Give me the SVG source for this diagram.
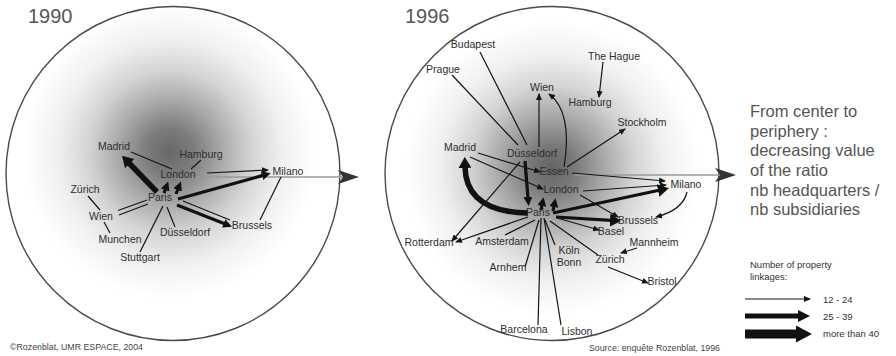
<svg xmlns="http://www.w3.org/2000/svg" width="896" height="356" viewBox="0 0 896 356">
  <style>
    .bg { fill: #ffffff; }
    .disc { stroke: #4a4a4a; stroke-width: 1.4; }
    .lbl { font-family: "Liberation Sans", Arial, sans-serif; font-size: 10.5px; fill: #2e2e2e; text-anchor: middle; }
    .year { font-family: "Liberation Sans", Arial, sans-serif; font-size: 20px; fill: #555555; }
    .note { font-family: "Liberation Sans", Arial, sans-serif; font-size: 16.5px; fill: #555555; }
    .small { font-family: "Liberation Sans", Arial, sans-serif; font-size: 9.5px; fill: #333333; }
    .foot { font-family: "Liberation Sans", Arial, sans-serif; font-size: 8.8px; fill: #444444; }
    .thin { fill: none; stroke: #151515; stroke-width: 1.2; }
    .mid { fill: none; stroke: #111111; stroke-width: 3.2; }
    .thick { fill: none; stroke: #111111; stroke-width: 5.5; }
    .axis { fill: none; stroke: #9a9a9a; stroke-width: 1.4; }
  </style>
  <defs>
    <radialGradient id="g90" gradientUnits="userSpaceOnUse" cx="170" cy="152" r="170">
      <stop offset="0" stop-color="#686868"/>
      <stop offset="0.14" stop-color="#7c7c7c"/>
      <stop offset="0.3" stop-color="#a8a8a8"/>
      <stop offset="0.48" stop-color="#d4d4d4"/>
      <stop offset="0.66" stop-color="#f0f0f0"/>
      <stop offset="0.86" stop-color="#ffffff"/>
    </radialGradient>
    <radialGradient id="g96" gradientUnits="userSpaceOnUse" cx="552" cy="168" r="170">
      <stop offset="0" stop-color="#646464"/>
      <stop offset="0.14" stop-color="#7a7a7a"/>
      <stop offset="0.3" stop-color="#a6a6a6"/>
      <stop offset="0.48" stop-color="#d3d3d3"/>
      <stop offset="0.66" stop-color="#f0f0f0"/>
      <stop offset="0.86" stop-color="#ffffff"/>
    </radialGradient>
    <marker id="hs" viewBox="0 0 7 6" refX="6" refY="3" markerWidth="7" markerHeight="6" markerUnits="userSpaceOnUse" orient="auto">
      <path d="M0,0 L7,3 L0,6 z" fill="#151515"/>
    </marker>
    <marker id="hm" viewBox="0 0 9 9" refX="1" refY="4.5" markerWidth="9" markerHeight="9" markerUnits="userSpaceOnUse" orient="auto">
      <path d="M0,0 L9,4.5 L0,9 z" fill="#111111"/>
    </marker>
    <marker id="hl" viewBox="0 0 11 13" refX="1" refY="6.5" markerWidth="11" markerHeight="13" markerUnits="userSpaceOnUse" orient="auto">
      <path d="M0,0 L11,6.5 L0,13 z" fill="#111111"/>
    </marker>
  </defs>

  <rect class="bg" x="0" y="0" width="896" height="356"/>

  <!-- the two shaded discs -->
  <circle class="disc" cx="173" cy="173.5" r="167" fill="url(#g90)"/>
  <circle class="disc" cx="552" cy="173.5" r="167" fill="url(#g96)"/>

  <text class="year" x="28" y="23">1990</text>
  <text class="year" x="405" y="23">1996</text>

  <!-- centre-to-periphery axes -->
  <g id="axes">
    <path class="axis" d="M193,177 L344,177"/>
    <path d="M359,177 L338,170 L343,177 L338,184 z" fill="#333333"/>
    <path class="axis" d="M575,175 L721,175"/>
    <path d="M736,175 L715,168 L720,175 L715,182 z" fill="#333333"/>
  </g>

  <!-- 1990 linkages -->
  <g id="links-1990">
    <path class="thin" d="M131,152 L172,169"/>
    <path class="thin" d="M201,160 L191,169"/>
    <path class="thin" d="M207,173 L268,170" marker-end="url(#hs)"/>
    <path class="thick" d="M157,192 L129,163" marker-end="url(#hl)"/>
    <path class="mid" stroke-width="4" d="M164,193 L165.5,189" marker-end="url(#hm)"/>
    <path class="mid" stroke-width="4.5" d="M176,194 L178,189" marker-end="url(#hm)"/>
    <path class="mid" d="M178,199 L263,175.4" marker-end="url(#hm)"/>
    <path class="mid" stroke-width="4" d="M177,205 L224.6,223.7" marker-end="url(#hm)"/>
    <path class="thin" d="M183,201 L230,220"/>
    <path class="thin" d="M281,177 L260,220"/>
    <path class="thin" d="M147,200 L118,210.5"/>
    <path class="thin" d="M148,204 L119,215"/>
    <path class="thin" d="M88,196 L100,210"/>
    <path class="thin" d="M104,222 L110,233"/>
    <path class="thin" d="M167,207 L175,227"/>
    <path class="thin" d="M163,206 L140,252"/>
  </g>

  <!-- 1990 cities -->
  <g id="c90-madrid"><text class="lbl" x="114" y="150">Madrid</text></g>
  <g id="c90-hamburg"><text class="lbl" x="201" y="158">Hamburg</text></g>
  <g id="c90-london"><text class="lbl" x="178" y="178">London</text></g>
  <g id="c90-milano"><text class="lbl" x="288" y="175">Milano</text></g>
  <g id="c90-zurich"><text class="lbl" x="85" y="193">Zürich</text></g>
  <g id="c90-paris"><text class="lbl" x="160" y="201">Paris</text></g>
  <g id="c90-wien"><text class="lbl" x="101" y="220">Wien</text></g>
  <g id="c90-brussels"><text class="lbl" x="252" y="229">Brussels</text></g>
  <g id="c90-dusseldorf"><text class="lbl" x="185" y="236">Düsseldorf</text></g>
  <g id="c90-munchen"><text class="lbl" x="120" y="243">Munchen</text></g>
  <g id="c90-stuttgart"><text class="lbl" x="140" y="261">Stuttgart</text></g>

  <!-- 1996 linkages -->
  <g id="links-1996">
    <path class="thin" d="M480,52 L527,145"/>
    <path class="thin" d="M452,75 L518,145"/>
    <path class="thin" d="M539,147 L539,94" marker-end="url(#hs)"/>
    <path class="thin" d="M564,167 Q573,112 549,94" marker-end="url(#hs)"/>
    <path class="thin" d="M603,62 L599,97" marker-end="url(#hs)"/>
    <path class="thin" d="M567,167 L625,129" marker-end="url(#hs)"/>
    <path class="thin" d="M478,153 L540,172" marker-end="url(#hs)"/>
    <path class="thin" d="M470,157 L543,189" marker-end="url(#hs)"/>
    <path class="thin" d="M520,162 L452,241" marker-end="url(#hs)"/>
    <path class="thin" d="M528,217 L456,242" marker-end="url(#hs)"/>
    <path class="thin" d="M572,173 L665,181" marker-end="url(#hs)"/>
    <path class="thin" d="M583,191 L666,185" marker-end="url(#hs)"/>
    <path class="thin" d="M580,195 L618,217" marker-end="url(#hs)"/>
    <path class="thin" d="M687,192 Q683,210 656,217" marker-end="url(#hs)"/>
    <path class="thin" d="M557,218 L599,230" marker-end="url(#hs)"/>
    <path class="thin" d="M535,220 L505,235"/>
    <path class="thin" d="M539,220 L525,267"/>
    <path class="thin" d="M541,218 L538,325"/>
    <path class="thin" d="M544,218 L561,325"/>
    <path class="thin" d="M545,220 L555,245"/>
    <path class="thin" d="M550,221 L598,255"/>
    <path class="thin" d="M637,248 L621,253" marker-end="url(#hs)"/>
    <path class="thin" d="M608,267 L648,283" marker-end="url(#hs)"/>
    <path class="thick" d="M528,213 Q466,212 465,167" marker-end="url(#hl)"/>
    <path class="mid" stroke-width="3" d="M525,161 L528,198" marker-end="url(#hm)"/>
    <path class="mid" stroke-width="4.5" d="M541,210 L542,205" marker-end="url(#hm)"/>
    <path class="mid" stroke-width="4.5" d="M553,211 L554,206" marker-end="url(#hm)"/>
    <path class="mid" stroke-width="4.5" d="M553,213 L659,190.3" marker-end="url(#hl)"/>
    <path class="mid" stroke-width="4.5" d="M556,217 L611,220.3" marker-end="url(#hl)"/>
  </g>

  <!-- 1996 cities -->
  <g id="c96-budapest"><text class="lbl" x="473" y="48">Budapest</text></g>
  <g id="c96-prague"><text class="lbl" x="443" y="73">Prague</text></g>
  <g id="c96-thehague"><text class="lbl" x="614" y="60">The Hague</text></g>
  <g id="c96-wien"><text class="lbl" x="542" y="91">Wien</text></g>
  <g id="c96-hamburg"><text class="lbl" x="590" y="106">Hamburg</text></g>
  <g id="c96-stockholm"><text class="lbl" x="642" y="126">Stockholm</text></g>
  <g id="c96-madrid"><text class="lbl" x="460" y="151">Madrid</text></g>
  <g id="c96-dusseldorf"><text class="lbl" x="532" y="157">Düsseldorf</text></g>
  <g id="c96-essen"><text class="lbl" x="554" y="175">Essen</text></g>
  <g id="c96-london"><text class="lbl" x="561" y="193">London</text></g>
  <g id="c96-milano"><text class="lbl" x="686" y="188">Milano</text></g>
  <g id="c96-paris"><text class="lbl" x="538" y="216">Paris</text></g>
  <g id="c96-brussels"><text class="lbl" x="638" y="224">Brussels</text></g>
  <g id="c96-basel"><text class="lbl" x="611" y="235">Basel</text></g>
  <g id="c96-rotterdam"><text class="lbl" x="429" y="246">Rotterdam</text></g>
  <g id="c96-amsterdam"><text class="lbl" x="502" y="245">Amsterdam</text></g>
  <g id="c96-mannheim"><text class="lbl" x="654" y="246">Mannheim</text></g>
  <g id="c96-koln"><text class="lbl" x="569" y="254">Köln</text></g>
  <g id="c96-bonn"><text class="lbl" x="569" y="266">Bonn</text></g>
  <g id="c96-zurich"><text class="lbl" x="610" y="263">Zürich</text></g>
  <g id="c96-arnhem"><text class="lbl" x="508" y="271">Arnhem</text></g>
  <g id="c96-bristol"><text class="lbl" x="662" y="285">Bristol</text></g>
  <g id="c96-barcelona"><text class="lbl" x="524" y="333">Barcelona</text></g>
  <g id="c96-lisbon"><text class="lbl" x="577" y="335">Lisbon</text></g>

  <!-- explanation -->
  <g id="explanation">
    <text class="note" x="750" y="117">From center to</text>
    <text class="note" x="750" y="137">periphery :</text>
    <text class="note" x="750" y="156">decreasing value</text>
    <text class="note" x="750" y="176">of the ratio</text>
    <text class="note" x="750" y="196">nb headquarters /</text>
    <text class="note" x="750" y="215">nb subsidiaries</text>
  </g>

  <!-- legend -->
  <g id="legend">
    <text class="small" x="750" y="268">Number of property</text>
    <text class="small" x="750" y="280">linkages:</text>
    <path class="thin" d="M745,299 L810,299" marker-end="url(#hs)"/>
    <path fill="none" stroke="#111" stroke-width="5" d="M745,316 L799,316"/>
    <path d="M798,310 L810,316 L798,322 z" fill="#111"/>
    <path fill="none" stroke="#111" stroke-width="9" d="M745,334 L797,334"/>
    <path d="M796,325.5 L812,334 L796,342.5 z" fill="#111"/>
    <text class="small" x="823" y="303">12 - 24</text>
    <text class="small" x="823" y="320">25 - 39</text>
    <text class="small" x="823" y="337">more than 40</text>
  </g>

  <text class="foot" x="10" y="350">©Rozenblat, UMR ESPACE, 2004</text>
  <text class="foot" x="720" y="351" text-anchor="end">Source: enquête Rozenblat, 1996</text>
</svg>
